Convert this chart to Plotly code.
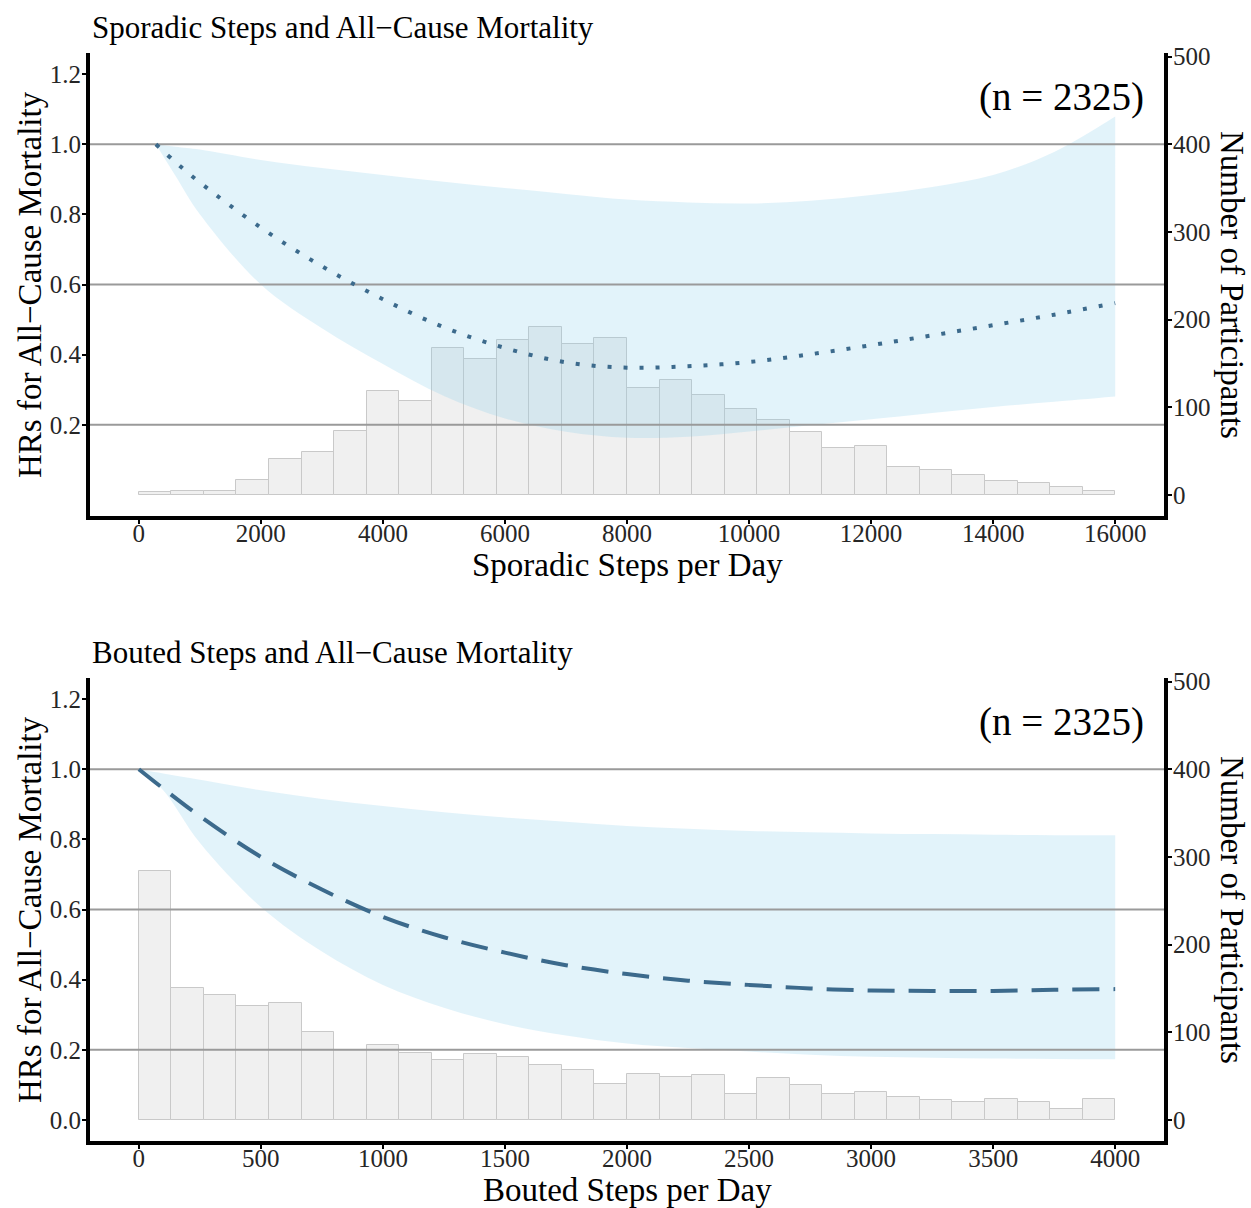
import plotly.graph_objects as go

W, H = 1251, 1208
SERIF = "Liberation Serif"

# ---------------- data: sporadic steps (top panel) ----------------
SPORADIC_MAX = 16000
SPORADIC_NBINS = 30
SPORADIC_COUNTS = [3, 5, 5, 17, 41, 49, 73, 119, 107, 168, 155, 177, 192, 172, 179,
                   122, 131, 114, 98, 86, 72, 54, 56, 32, 28, 23, 16, 14, 9, 5]
SPORADIC_X = [280, 600, 1000, 2000, 3000, 4000, 5000, 6000, 7000, 8000, 9000,
              10000, 11000, 12000, 13000, 14000, 15000, 16000]
SPORADIC_HR = [1.0, 0.949, 0.891, 0.762, 0.652, 0.558, 0.478, 0.419, 0.378, 0.363,
               0.367, 0.379, 0.401, 0.427, 0.455, 0.484, 0.514, 0.547]
SPORADIC_UPPER = [1.0, 0.993, 0.985, 0.955, 0.932, 0.912, 0.893, 0.875, 0.858, 0.842,
                  0.834, 0.831, 0.839, 0.855, 0.878, 0.912, 0.978, 1.079]
SPORADIC_LOWER = [1.0, 0.91, 0.80, 0.60, 0.475, 0.373, 0.282, 0.218, 0.18, 0.163,
                  0.166, 0.181, 0.199, 0.216, 0.234, 0.251, 0.266, 0.281]
SPORADIC_XTICKS = [0, 2000, 4000, 6000, 8000, 10000, 12000, 14000, 16000]

# ---------------- data: bouted steps (bottom panel) ----------------
BOUTED_MAX = 4000
BOUTED_NBINS = 30
BOUTED_COUNTS = [284, 150, 143, 130, 133, 100, 80, 85, 76, 68, 75, 72, 63, 57, 41,
                 52, 49, 51, 30, 48, 40, 30, 32, 26, 23, 20, 24, 21, 13, 24]
BOUTED_X = [0, 100, 250, 500, 750, 1000, 1250, 1500, 1750, 2000, 2250, 2500,
            2750, 3000, 3250, 3500, 3750, 4000]
BOUTED_HR = [1.0, 0.945, 0.866, 0.75, 0.657, 0.579, 0.521, 0.477, 0.441, 0.416,
             0.397, 0.385, 0.375, 0.369, 0.368, 0.368, 0.371, 0.373]
BOUTED_UPPER = [1.0, 0.988, 0.97, 0.94, 0.915, 0.895, 0.877, 0.862, 0.85, 0.838,
                0.83, 0.824, 0.82, 0.817, 0.815, 0.813, 0.812, 0.812]
BOUTED_LOWER = [1.0, 0.94, 0.79, 0.607, 0.48, 0.385, 0.32, 0.273, 0.241, 0.218,
                0.205, 0.195, 0.186, 0.18, 0.177, 0.175, 0.174, 0.173]
BOUTED_XTICKS = [0, 500, 1000, 1500, 2000, 2500, 3000, 3500, 4000]

REF_LINES = [0.2, 0.6, 1.0]
COUNT_TICKS = [0, 100, 200, 300, 400, 500]
HR_TICKS_TOP = [0.2, 0.4, 0.6, 0.8, 1.0, 1.2]
HR_TICKS_BOTTOM = [0.0, 0.2, 0.4, 0.6, 0.8, 1.0, 1.2]
N_LABEL = "(n = 2325)"

# ---------------- styles ----------------
BAR_FILL = "#F0F0F0"
BAR_EDGE = "#C9C9C9"
RIBBON = "rgba(135,206,235,0.24)"
CURVE = "#3C6A8C"
REF_COLOR = "#9A9A9A"
TICK_COLOR = "#262626"


def px_x(x):
    return x / W


def px_y(y):
    return 1 - y / H


fig = go.Figure()


def add_panel(xa, ya_cnt, ya_hr, nmax, nbins, counts, xs, hr, lo, up, dash, xrange):
    bw = nmax / nbins
    centers = [bw * (i + 0.5) for i in range(nbins)]
    fig.add_trace(go.Bar(x=centers, y=counts, width=[bw] * nbins,
                         marker=dict(color=BAR_FILL, line=dict(color=BAR_EDGE, width=1)),
                         xaxis=xa, yaxis=ya_cnt, showlegend=False, hoverinfo="skip"))
    fig.add_trace(go.Scatter(x=xs, y=lo, mode="lines", line=dict(width=0, shape="spline"),
                             xaxis=xa, yaxis=ya_hr, showlegend=False, hoverinfo="skip"))
    fig.add_trace(go.Scatter(x=xs, y=up, mode="lines", line=dict(width=0, shape="spline"),
                             fill="tonexty", fillcolor=RIBBON,
                             xaxis=xa, yaxis=ya_hr, showlegend=False, hoverinfo="skip"))
    for r in REF_LINES:
        fig.add_trace(go.Scatter(x=xrange, y=[r, r], mode="lines",
                                 line=dict(color=REF_COLOR, width=2),
                                 xaxis=xa, yaxis=ya_hr, showlegend=False, hoverinfo="skip"))
    fig.add_trace(go.Scatter(x=xs, y=hr, mode="lines",
                             line=dict(color=CURVE, width=4, dash=dash, shape="spline"),
                             xaxis=xa, yaxis=ya_hr, showlegend=False, hoverinfo="skip"))


top_xr = [-0.05 * SPORADIC_MAX, 1.05 * SPORADIC_MAX]
bot_xr = [-0.05 * BOUTED_MAX, 1.05 * BOUTED_MAX]

add_panel("x", "y", "y2", SPORADIC_MAX, SPORADIC_NBINS, SPORADIC_COUNTS,
          SPORADIC_X, SPORADIC_HR, SPORADIC_LOWER, SPORADIC_UPPER, "4px,12px", top_xr)
add_panel("x2", "y3", "y4", BOUTED_MAX, BOUTED_NBINS, BOUTED_COUNTS,
          BOUTED_X, BOUTED_HR, BOUTED_LOWER, BOUTED_UPPER, "27px,14px", bot_xr)

X_DOM = [px_x(90), px_x(1164)]
TOP_DOM = [px_y(516), px_y(53)]
BOT_DOM = [px_y(1141), px_y(678)]

tickfont = dict(family=SERIF, size=25, color=TICK_COLOR)
axis_common = dict(showline=True, linewidth=4, linecolor="black", ticks="outside",
                   ticklen=4, tickwidth=2, tickcolor="black", showgrid=False,
                   zeroline=False, tickfont=tickfont, fixedrange=True, automargin=False)
x_extra = dict(ticklabelstandoff=-12)
y_extra = dict(ticklabelstandoff=-4)

fig.update_layout(
    template="none",
    width=W, height=H, margin=dict(l=0, r=0, t=0, b=0, pad=0), autosize=False,
    paper_bgcolor="white", plot_bgcolor="rgba(0,0,0,0)",
    barmode="overlay", bargap=0, showlegend=False,
    xaxis=dict(domain=X_DOM, range=top_xr, anchor="y", tickvals=SPORADIC_XTICKS,
               tickformat="d", **axis_common, **x_extra),
    yaxis=dict(domain=TOP_DOM, range=[-24, 504], anchor="x", side="right",
               tickvals=COUNT_TICKS, tickformat="d", **axis_common, **y_extra),
    yaxis2=dict(range=[-0.06, 1.26], anchor="x", overlaying="y", side="left",
                tickvals=HR_TICKS_TOP, tickformat=".1f", **axis_common, **y_extra),
    xaxis2=dict(domain=X_DOM, range=bot_xr, anchor="y3", tickvals=BOUTED_XTICKS,
                tickformat="d", **axis_common, **x_extra),
    yaxis3=dict(domain=BOT_DOM, range=[-24, 504], anchor="x2", side="right",
                tickvals=COUNT_TICKS, tickformat="d", **axis_common, **y_extra),
    yaxis4=dict(range=[-0.06, 1.26], anchor="x2", overlaying="y3", side="left",
                tickvals=HR_TICKS_BOTTOM, tickformat=".1f", **axis_common, **y_extra),
)

TITLE_SIZE = 31
AXT_SIZE = 33


def ann(text, x, y, size, xanchor="center", yanchor="middle", angle=0):
    fig.add_annotation(text=text, x=px_x(x), y=px_y(y), xref="paper", yref="paper",
                       xanchor=xanchor, yanchor=yanchor, textangle=angle, showarrow=False,
                       font=dict(family=SERIF, size=size, color="black"))


for title, xt, y0, nlab_y in [
    ("Sporadic Steps and All\u2212Cause Mortality", "Sporadic Steps per Day", 0, 97),
    ("Bouted Steps and All\u2212Cause Mortality", "Bouted Steps per Day", 625, 722),
]:
    ann(title, 90, 27 + y0, TITLE_SIZE, xanchor="left")
    ann(N_LABEL, 1146, nlab_y, 39, xanchor="right")
    ann("HRs for All\u2212Cause Mortality", 30, 285 + y0, AXT_SIZE, angle=-90)
    ann("Number of Participants", 1232, 285 + y0, AXT_SIZE, angle=90)
    ann(xt, 627, 565 + y0, AXT_SIZE)

fig.write_html("out.html")
